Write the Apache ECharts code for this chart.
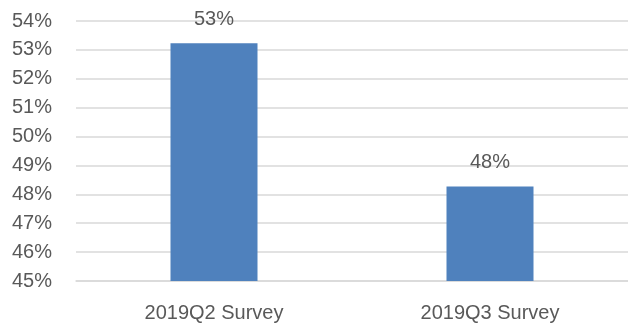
<!DOCTYPE html>
<html>
<head>
<meta charset="utf-8">
<script src="https://cdn.jsdelivr.net/npm/echarts@6/dist/echarts.min.js"></script>
<style>
  html, body { margin: 0; padding: 0; background: #fff; }
  #chart { width: 628px; height: 325px; }
</style>
</head>
<body>
<div id="chart"></div>
<script>
// Survey results, percent of respondents
const categories = ['2019Q2 Survey', '2019Q3 Survey'];
const values = [53.23, 48.27];
const yMin = 45;
const yMax = 54;
const yStep = 1;

const chart = echarts.init(document.getElementById('chart'));
const textColor = '#595959';
const fontFamily = 'Liberation Sans, Arial, sans-serif';

chart.setOption({
  animation: false,
  grid: { left: 76, right: -3, top: 21, bottom: 44 },
  xAxis: {
    type: 'category',
    data: categories,
    axisLine: { show: true, lineStyle: { color: '#d9d9d9', width: 1.5 } },
    axisTick: { show: false },
    axisLabel: { color: textColor, fontSize: 20, fontFamily: fontFamily, margin: 22 }
  },
  yAxis: {
    type: 'value',
    min: yMin,
    max: yMax,
    interval: yStep,
    axisLine: { show: false },
    axisTick: { show: false },
    splitLine: { lineStyle: { color: '#d9d9d9', width: 1.5 } },
    axisLabel: {
      color: textColor, fontSize: 20, fontFamily: fontFamily, margin: 24,
      formatter: v => v + '%'
    }
  },
  series: [{
    type: 'bar',
    data: values,
    barWidth: 87,
    itemStyle: { color: '#4f81bd' },
    label: {
      show: true,
      position: 'top',
      distance: 14,
      color: textColor,
      fontSize: 20,
      fontFamily: fontFamily,
      formatter: p => Math.round(p.value) + '%'
    }
  }]
});
</script>
</body>
</html>
